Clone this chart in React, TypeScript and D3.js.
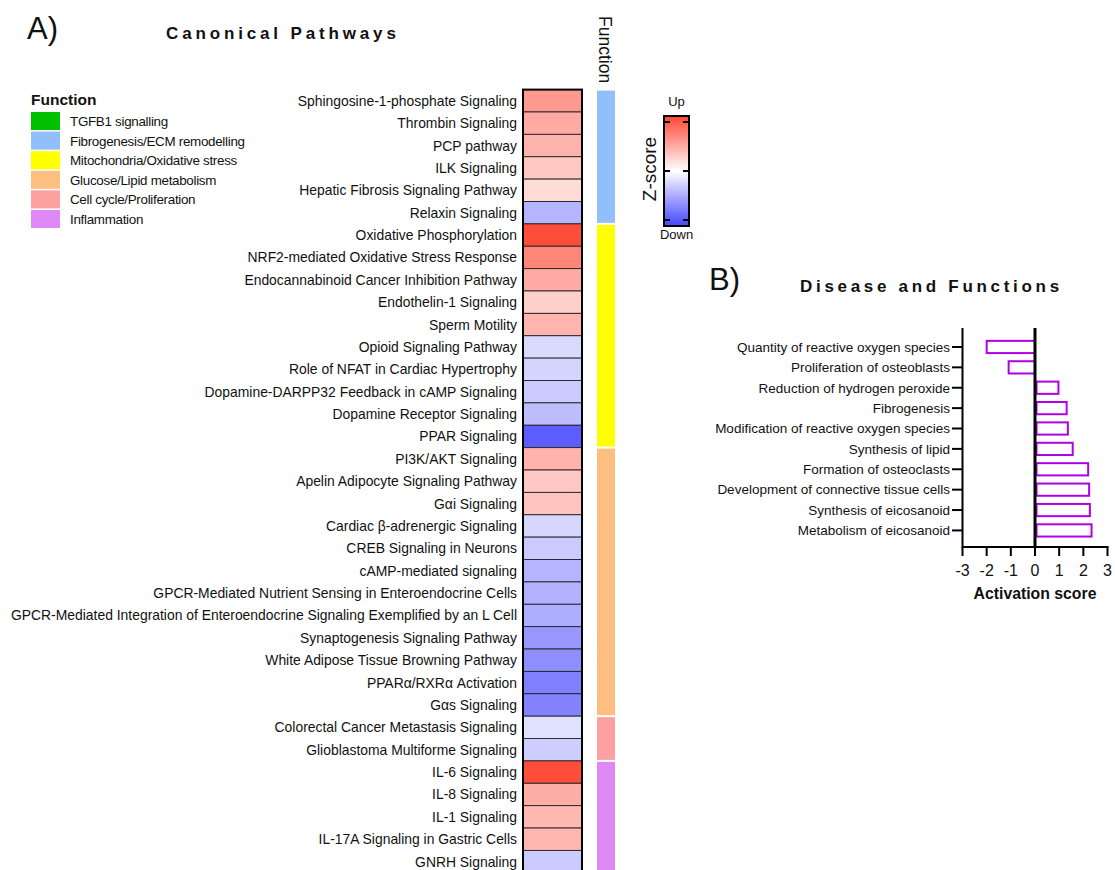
import React from "react";
import * as d3 from "d3";

// Canonical pathways (top to bottom) with activation z-scores
const pathways: string[] = [
  "Sphingosine-1-phosphate Signaling",
  "Thrombin Signaling",
  "PCP pathway",
  "ILK Signaling",
  "Hepatic Fibrosis Signaling Pathway",
  "Relaxin Signaling",
  "Oxidative Phosphorylation",
  "NRF2-mediated Oxidative Stress Response",
  "Endocannabinoid Cancer Inhibition Pathway",
  "Endothelin-1 Signaling",
  "Sperm Motility",
  "Opioid Signaling Pathway",
  "Role of NFAT in Cardiac Hypertrophy",
  "Dopamine-DARPP32 Feedback in cAMP Signaling",
  "Dopamine Receptor Signaling",
  "PPAR Signaling",
  "PI3K/AKT Signaling",
  "Apelin Adipocyte Signaling Pathway",
  "Gαi Signaling",
  "Cardiac β-adrenergic Signaling",
  "CREB Signaling in Neurons",
  "cAMP-mediated signaling",
  "GPCR-Mediated Nutrient Sensing in Enteroendocrine Cells",
  "GPCR-Mediated Integration of Enteroendocrine Signaling Exemplified by an L Cell",
  "Synaptogenesis Signaling Pathway",
  "White Adipose Tissue Browning Pathway",
  "PPARα/RXRα Activation",
  "Gαs Signaling",
  "Colorectal Cancer Metastasis Signaling",
  "Glioblastoma Multiforme Signaling",
  "IL-6 Signaling",
  "IL-8 Signaling",
  "IL-1 Signaling",
  "IL-17A Signaling in Gastric Cells",
  "GNRH Signaling",
];

const zScores: number[] = [
  0.55, 0.46, 0.41, 0.3, 0.19, -0.4, 0.96, 0.66, 0.46, 0.26, 0.4, -0.2, -0.23,
  -0.28, -0.35, -0.88, 0.41, 0.3, 0.32, -0.22, -0.28, -0.4, -0.42, -0.44,
  -0.56, -0.61, -0.69, -0.67, -0.17, -0.27, 0.96, 0.44, 0.38, 0.39, -0.28,
];

// Function group of each pathway
const functionOf: string[] = [
  "Fibrogenesis/ECM remodelling", "Fibrogenesis/ECM remodelling", "Fibrogenesis/ECM remodelling",
  "Fibrogenesis/ECM remodelling", "Fibrogenesis/ECM remodelling", "Fibrogenesis/ECM remodelling",
  "Mitochondria/Oxidative stress", "Mitochondria/Oxidative stress", "Mitochondria/Oxidative stress",
  "Mitochondria/Oxidative stress", "Mitochondria/Oxidative stress", "Mitochondria/Oxidative stress",
  "Mitochondria/Oxidative stress", "Mitochondria/Oxidative stress", "Mitochondria/Oxidative stress",
  "Mitochondria/Oxidative stress",
  "Glucose/Lipid metabolism", "Glucose/Lipid metabolism", "Glucose/Lipid metabolism",
  "Glucose/Lipid metabolism", "Glucose/Lipid metabolism", "Glucose/Lipid metabolism",
  "Glucose/Lipid metabolism", "Glucose/Lipid metabolism", "Glucose/Lipid metabolism",
  "Glucose/Lipid metabolism", "Glucose/Lipid metabolism", "Glucose/Lipid metabolism",
  "Cell cycle/Proliferation", "Cell cycle/Proliferation",
  "Inflammation", "Inflammation", "Inflammation", "Inflammation", "Inflammation",
];

const functionNames: string[] = [
  "TGFB1 signalling",
  "Fibrogenesis/ECM remodelling",
  "Mitochondria/Oxidative stress",
  "Glucose/Lipid metabolism",
  "Cell cycle/Proliferation",
  "Inflammation",
];
const functionColors: string[] = ["#00c000", "#90bffa", "#ffff00", "#fdbf80", "#fda0a0", "#de89f5"];

// Disease and functions activation scores
const diseases: string[] = [
  "Quantity of reactive oxygen species",
  "Proliferation of osteoblasts",
  "Reduction of hydrogen peroxide",
  "Fibrogenesis",
  "Modification of reactive oxygen species",
  "Synthesis of lipid",
  "Formation of osteoclasts",
  "Development of connective tissue cells",
  "Synthesis of eicosanoid",
  "Metabolism of eicosanoid",
];
const activation: number[] = [-2.0, -1.09, 0.97, 1.31, 1.36, 1.56, 2.2, 2.24, 2.27, 2.34];
const activationTicks: number[] = [-3, -2, -1, 0, 1, 2, 3];

const FONT = "'Liberation Sans', Arial, Helvetica, sans-serif";

export default function App() {
  const zColor = d3
    .scaleLinear<string>()
    .domain([-1, 0, 1])
    .range(["#4646ff", "#ffffff", "#ff4634"])
    .interpolate(d3.interpolateRgb);

  const yA = d3.scaleBand<string>().domain(pathways).range([89.6, 872.8]);
  const hx0 = 523;
  const hx1 = 582;

  // contiguous runs of the same function
  const groups: { name: string; start: number; end: number }[] = [];
  functionOf.forEach((f, i) => {
    const last = groups[groups.length - 1];
    if (last && last.name === f) last.end = i;
    else groups.push({ name: f, start: i, end: i });
  });
  const fnColor = d3.scaleOrdinal<string, string>().domain(functionNames).range(functionColors);

  // colour bar
  const cbX = 664, cbW = 25, cbY0 = 116, cbY1 = 226;
  const cbY = d3.scaleLinear().domain([1, -1]).range([cbY0 + 6, cbY1 - 6]);

  // panel B
  const xB = d3.scaleLinear().domain([-3, 3]).range([962.5, 1107.5]);
  const yB = d3.scaleBand<string>().domain(diseases).range([332.7, 544.7]).padding(0.4);
  const axisY0 = 328, axisY1 = 547;

  return (
    <svg
      width={1115}
      height={870}
      style={{ position: "absolute", left: 0, top: 0, background: "#fff" }}
      fontFamily={FONT}
    >
      <defs>
        <linearGradient id="zgrad" x1="0" y1="0" x2="0" y2="1">
          <stop offset="0%" stopColor={zColor(1)} />
          <stop offset="50%" stopColor="#ffffff" />
          <stop offset="100%" stopColor={zColor(-1)} />
        </linearGradient>
      </defs>

      {/* Panel A */}
      <text x={27} y={39} fontSize={31} fill="#111">A)</text>
      <text x={166} y={39} fontSize={17} fontWeight="bold" letterSpacing={3.85} fill="#111">
        Canonical Pathways
      </text>

      {/* legend */}
      <text x={31} y={105} fontSize={15.5} fontWeight="bold" fill="#111">Function</text>
      {functionNames.map((n, i) => {
        const y = 112 + i * 19.6;
        return (
          <g key={n}>
            <rect x={31} y={y} width={29} height={18} fill={fnColor(n)} />
            <text x={70} y={y + 14} fontSize={13.4} fill="#111" letterSpacing={-0.3}>{n}</text>
          </g>
        );
      })}

      {/* heatmap cells */}
      {pathways.map((p, i) => (
        <g key={p}>
          <rect
            x={hx0}
            y={yA(p)!}
            width={hx1 - hx0}
            height={yA.bandwidth()}
            fill={zColor(zScores[i])}
            stroke="#222"
            strokeWidth={0.9}
          />
          <text
            x={517}
            y={yA(p)! + yA.bandwidth() / 2 + 5}
            fontSize={13.9}
            textAnchor="end"
            fill="#111"
          >
            {p}
          </text>
        </g>
      ))}
      <rect x={hx0} y={yA.range()[0]} width={hx1 - hx0} height={yA.range()[1] - yA.range()[0]} fill="none" stroke="#000" strokeWidth={2} />

      {/* function bar */}
      <text transform="translate(599,16) rotate(90)" fontSize={17.5} fill="#111">Function</text>
      {groups.map((g) => (
        <rect
          key={g.name}
          x={597}
          y={yA(pathways[g.start])! + 1}
          width={18}
          height={yA(pathways[g.end])! + yA.bandwidth() - yA(pathways[g.start])! - 2}
          fill={fnColor(g.name)}
        />
      ))}

      {/* z-score colour bar */}
      <text x={cbX + cbW / 2} y={106} fontSize={13} textAnchor="middle" fill="#111">Up</text>
      <text x={cbX + cbW / 2} y={239} fontSize={13} textAnchor="middle" fill="#111">Down</text>
      <text transform={`translate(656,${(cbY0 + cbY1) / 2 - 2}) rotate(-90)`} fontSize={19} textAnchor="middle" fill="#111">
        Z-score
      </text>
      <rect x={cbX} y={cbY0} width={cbW} height={cbY1 - cbY0} fill="url(#zgrad)" stroke="#000" strokeWidth={2} />
      {[1, 0, -1].map((v) => (
        <g key={v} stroke="#000" strokeWidth={2}>
          <line x1={cbX} x2={cbX + 6} y1={cbY(v)} y2={cbY(v)} />
          <line x1={cbX + cbW - 6} x2={cbX + cbW} y1={cbY(v)} y2={cbY(v)} />
        </g>
      ))}

      {/* Panel B */}
      <text x={709} y={290} fontSize={31} fill="#111">B)</text>
      <text x={800} y={292} fontSize={17} fontWeight="bold" letterSpacing={3.7} fill="#111">
        Disease and Functions
      </text>

      {diseases.map((d, i) => {
        const v = activation[i];
        const x0 = v < 0 ? xB(v) : xB(0) + 1.5;
        const x1 = v < 0 ? xB(0) : xB(v);
        const y = yB(d)!;
        return (
          <g key={d}>
            <rect x={x0} y={y} width={x1 - x0} height={yB.bandwidth()} fill="#fff" stroke="#b000e6" strokeWidth={2} />
            <line x1={952} x2={962.5} y1={y + yB.bandwidth() / 2} y2={y + yB.bandwidth() / 2} stroke="#000" strokeWidth={2} />
            <text x={950} y={y + yB.bandwidth() / 2 + 4.8} fontSize={13.5} textAnchor="end" fill="#111">
              {d}
            </text>
          </g>
        );
      })}
      {/* axes */}
      <line x1={xB(-3)} x2={xB(-3)} y1={axisY0} y2={axisY1 + 1} stroke="#000" strokeWidth={2} />
      <line x1={xB(-3)} x2={xB(3) + 1} y1={axisY1} y2={axisY1} stroke="#000" strokeWidth={2} />
      <line x1={xB(0)} x2={xB(0)} y1={axisY0} y2={axisY1} stroke="#000" strokeWidth={3} />
      {activationTicks.map((t) => (
        <g key={t}>
          <line x1={xB(t)} x2={xB(t)} y1={axisY1} y2={axisY1 + 9} stroke="#000" strokeWidth={2} />
          <text x={xB(t)} y={576} fontSize={16} textAnchor="middle" fill="#111">{t}</text>
        </g>
      ))}
      <text x={xB(0)} y={599} fontSize={15.8} fontWeight="bold" textAnchor="middle" fill="#111">
        Activation score
      </text>
    </svg>
  );
}
